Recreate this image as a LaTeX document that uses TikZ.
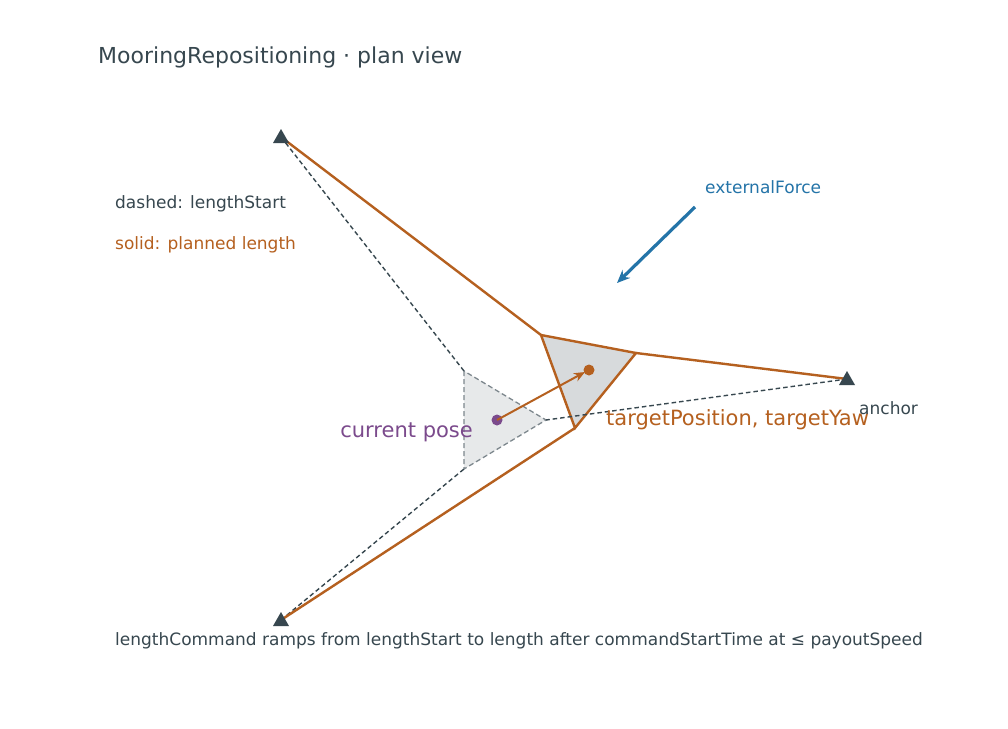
\documentclass[tikz,border=0pt]{standalone}
\usepackage{fontspec}
\setmainfont{DejaVu Sans}
\usetikzlibrary{calc,arrows.meta}
\begin{document}
\begin{tikzpicture}[x=1pt,y=-1pt,
  dark/.style={draw=darkc,line width=1.4pt,dash pattern=on 4.5pt off 3pt},
  solid/.style={draw=orng,line width=2.4pt},
  lbl/.style={anchor=west,inner sep=0pt,font=\fontsize{17}{20}\selectfont}]
\definecolor{darkc}{HTML}{37474F}
\definecolor{orng}{HTML}{B5601F}
\definecolor{purp}{HTML}{7B4A8C}
\definecolor{blu}{HTML}{2474A8}
\useasboundingbox (0,0) rectangle (1008,728);
\fill[white] (0,0) rectangle (1008,728);
\coordinate (A1) at (281,137);
\coordinate (A2) at (281,620);
\coordinate (A3) at (847,379);
\coordinate (c1) at (464,371);
\coordinate (c2) at (464,469);
\coordinate (c3) at (546,420);
\coordinate (t1) at (541,335);
\coordinate (t2) at (636,353);
\coordinate (t3) at (575,428);
\coordinate (cp) at (497,420);
\coordinate (tp) at (589,370);
\coordinate (f1) at (695,207);
\coordinate (f2) at (617,283);
\draw[fill=darkc!12,draw=darkc!65,line width=1.3pt,dash pattern=on 5pt off 3pt] (c1)--(c2)--(c3)--cycle;
\draw[fill=darkc!20,solid] (t1)--(t2)--(t3)--cycle;
\draw[dark] (A1)--(c1);
\draw[dark] (A2)--(c2);
\draw[dark] (A3)--(c3);
\draw[solid] (A1)--(t1);
\draw[solid] (A2)--(t3);
\draw[solid] (A3)--(t2);
\foreach \a in {A1,A2,A3}
  \fill[darkc] ($(\a)+(0,-8)$) -- ($(\a)+(8,6)$) -- ($(\a)+(-8,6)$) -- cycle;
\fill[purp] (cp) circle (5.5);
\fill[orng] (tp) circle (5.5);
\draw[orng,line width=2pt,-{Stealth[length=11pt,width=9pt]}] (cp)--(585,372);
\draw[blu,line width=3.2pt,-{Stealth[length=13pt,width=11pt]}] (f1)--(f2);
\node[lbl,text=darkc,font=\fontsize{22}{26}\selectfont] (title) at (98,57) {MooringRepositioning · plan view};
\node[lbl,text=blu] (ef) at (705,187) {externalForce};
\node[lbl,text=darkc] (ds) at (115,204) {dashed: lengthStart};
\node[lbl,text=orng] (sp) at (115,245) {solid: planned length};
\node[anchor=east,inner sep=0pt,text=purp,font=\fontsize{21}{24}\selectfont] (cur) at (473,432) {current pose};
\node[lbl,text=orng,font=\fontsize{21}{24}\selectfont] (tgt) at (606,420) {targetPosition, targetYaw};
\node[lbl,text=darkc] (an) at (859,408) {anchor};
\node[lbl,text=darkc] (bt) at (115,641) {lengthCommand ramps from lengthStart to length after commandStartTime at ≤ payoutSpeed};
\end{tikzpicture}
\end{document}
